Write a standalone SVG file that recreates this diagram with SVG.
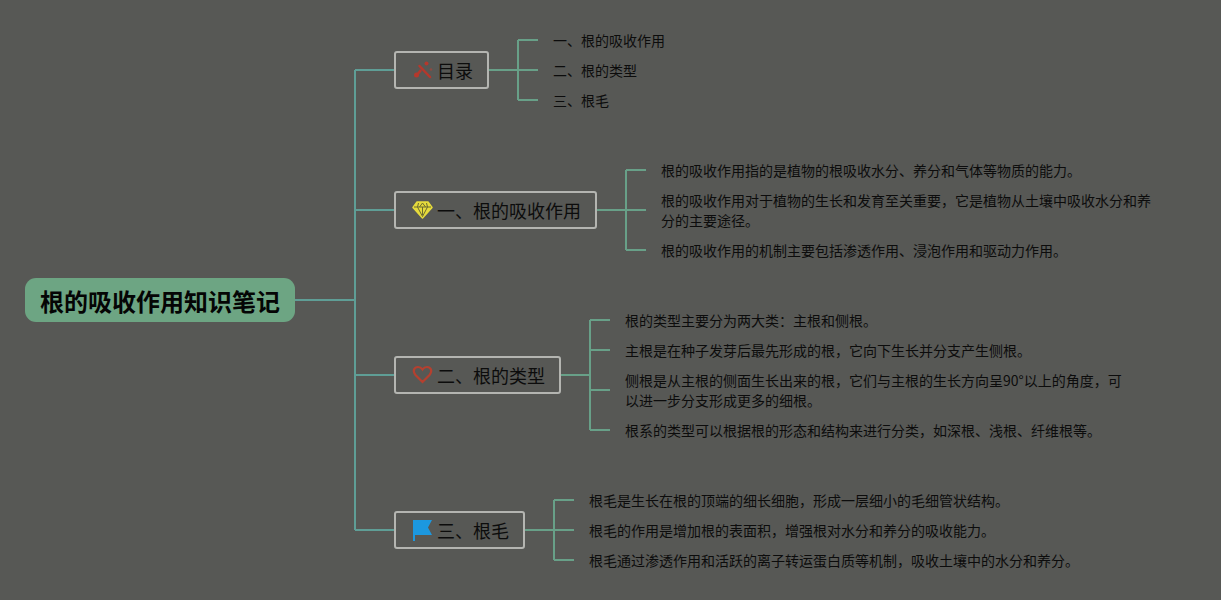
<svg xmlns="http://www.w3.org/2000/svg" width="1221" height="600" viewBox="0 0 1221 600">
<style>
text{font-family:"Noto Sans CJK SC","Liberation Sans",sans-serif;fill:#0c0c0c}
.leaf{font-size:14px}
.branch{font-size:18px}
.box{fill:#575855;stroke:#b4b5b1;stroke-width:2}
.c{fill:none;stroke:#68a088;stroke-width:2}
.t{fill:none;stroke:#5f9e96;stroke-width:2}
</style>
<rect width="1221" height="600" fill="#575855"/>
<g id="connectors">
<path class="t" d="M295 300H355M355 70V530M355 70H395M355 210H395M355 375H395M355 530H395"/>
<path class="c" d="M489 70H518M518 40V100M518 40H538M518 70H538M518 100H538"/>
<path class="c" d="M597 210H626M626 170V250M626 170H646M626 210H646M626 250H646"/>
<path class="c" d="M561 375H590M590 320V430M590 320H610M590 350H610M590 390H610M590 430H610"/>
<path class="c" d="M525 530H554M554 500V560M554 500H574M554 530H574M554 560H574"/>
</g>
<g id="root">
<rect x="25" y="278" width="270" height="44" rx="11" fill="#6da583"/>
<text x="40" y="311" font-size="24" font-weight="700" style="fill:#050505">根的吸收作用知识笔记</text>
</g>
<g id="branch-mulu">
<rect class="box" x="395" y="52" width="93" height="36" rx="2"/>
<path d="M419.500 66L430 77" stroke-width="2.500" fill="none" stroke="#b5382c" stroke-linecap="round"/>
<path d="M421 70L417 75" stroke-width="2.500" fill="none" stroke="#b5382c"/>
<circle cx="416.500" cy="75" r="2.500" fill="#b5382c"/>
<circle cx="426.500" cy="63.500" r="2" fill="#b5382c"/>
<circle cx="431" cy="69.500" r="1.300" fill="#8c4a42"/>
<text class="branch" x="437" y="78">目录</text>
</g>
<g id="branch-1">
<rect class="box" x="395" y="192" width="201" height="36" rx="2"/>
<path d="M417 202H428L432 207.500L422.500 218L413 207.500Z" fill="#e6db3c" stroke="#e6db3c" stroke-width="1.500" stroke-linejoin="round"/>
<path d="M414 207H431M418.500 203L417.500 207L422.500 216.500L427.500 207L426.500 203M422.500 203L419.500 207M422.500 203L425.500 207M422.500 207V215" fill="none" stroke="#6b6a30" stroke-width="1"/>
<text class="branch" x="437" y="218">一、根的吸收作用</text>
</g>
<g id="branch-2">
<rect class="box" x="395" y="357" width="165" height="36" rx="2"/>
<path d="M422.500 382L415.500 375C412 370.500 414.500 367 418 367C420 367 421.500 368 422.500 369.500C423.500 368 425 367 427 367C430.500 367 433 370.500 429.500 375Z" fill="none" stroke="#b5402f" stroke-width="2.200"/>
<text class="branch" x="437" y="383">二、根的类型</text>
</g>
<g id="branch-3">
<rect class="box" x="395" y="512" width="129" height="36" rx="2"/>
<path d="M413 520H432L428 527.500L432 535H415V541H413Z" fill="#1c98e0"/>
<text class="branch" x="437" y="538">三、根毛</text>
</g>
<g id="leaf-0-0"><text class="leaf" x="553" y="46">一、根的吸收作用</text></g>
<g id="leaf-0-1"><text class="leaf" x="553" y="76">二、根的类型</text></g>
<g id="leaf-0-2"><text class="leaf" x="553" y="106">三、根毛</text></g>
<g id="leaf-1-0"><text class="leaf" x="661" y="176">根的吸收作用指的是植物的根吸收水分、养分和气体等物质的能力。</text></g>
<g id="leaf-1-1"><text class="leaf" x="661" y="206">根的吸收作用对于植物的生长和发育至关重要，它是植物从土壤中吸收水分和养</text><text class="leaf" x="661" y="226">分的主要途径。</text></g>
<g id="leaf-1-2"><text class="leaf" x="661" y="256">根的吸收作用的机制主要包括渗透作用、浸泡作用和驱动力作用。</text></g>
<g id="leaf-2-0"><text class="leaf" x="625" y="326">根的类型主要分为两大类：主根和侧根。</text></g>
<g id="leaf-2-1"><text class="leaf" x="625" y="356">主根是在种子发芽后最先形成的根，它向下生长并分支产生侧根。</text></g>
<g id="leaf-2-2"><text class="leaf" x="625" y="386">侧根是从主根的侧面生长出来的根，它们与主根的生长方向呈90°以上的角度，可</text><text class="leaf" x="625" y="406">以进一步分支形成更多的细根。</text></g>
<g id="leaf-2-3"><text class="leaf" x="625" y="436">根系的类型可以根据根的形态和结构来进行分类，如深根、浅根、纤维根等。</text></g>
<g id="leaf-3-0"><text class="leaf" x="589" y="506">根毛是生长在根的顶端的细长细胞，形成一层细小的毛细管状结构。</text></g>
<g id="leaf-3-1"><text class="leaf" x="589" y="536">根毛的作用是增加根的表面积，增强根对水分和养分的吸收能力。</text></g>
<g id="leaf-3-2"><text class="leaf" x="589" y="566">根毛通过渗透作用和活跃的离子转运蛋白质等机制，吸收土壤中的水分和养分。</text></g>
</svg>
